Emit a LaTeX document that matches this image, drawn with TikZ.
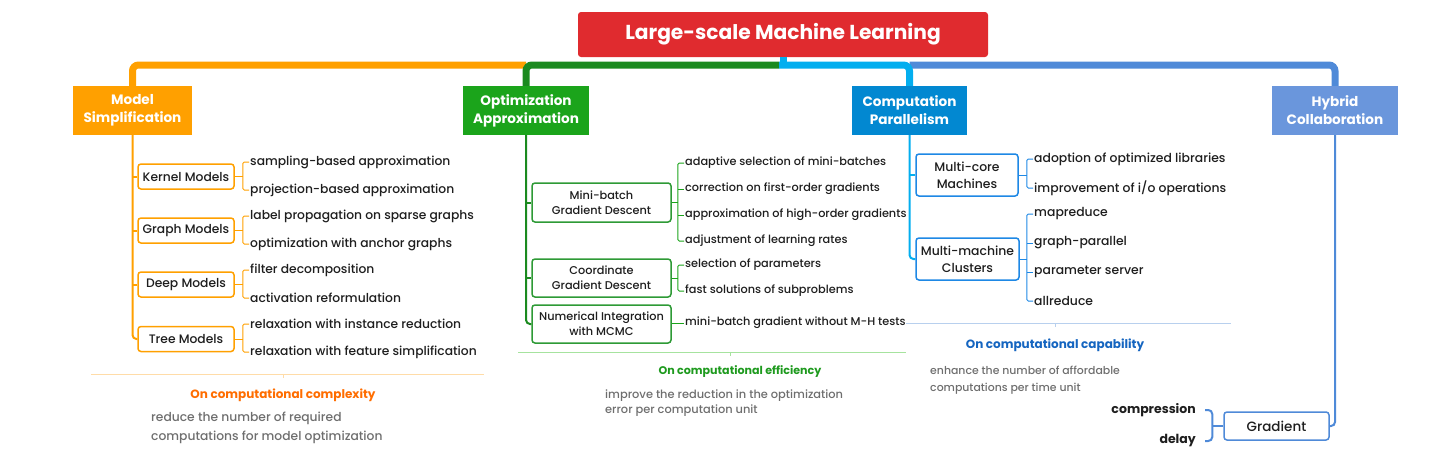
\documentclass[tikz,border=0pt]{standalone}
\usepackage{fontspec}
\setmainfont{Poppins}
\IfFontExistsTF{Poppins Medium}{\newfontfamily\medf{Poppins Medium}}{\newfontfamily\medf{Poppins}[FakeBold=1.1]}
\definecolor{rootR}{HTML}{E02B2F}
\definecolor{orgC}{HTML}{FFA000}
\definecolor{grnC}{HTML}{1BA41B}
\definecolor{grnD}{HTML}{1B8A1F}
\definecolor{grnB}{HTML}{2E9A36}
\definecolor{cyaC}{HTML}{03AEEF}
\definecolor{bluC}{HTML}{0288D1}
\definecolor{bluB}{HTML}{1E88E5}
\definecolor{hybC}{HTML}{6A96DC}
\definecolor{hybL}{HTML}{4F8AD8}
\definecolor{txtC}{HTML}{1E1E1E}
\definecolor{grayT}{HTML}{6E6E6E}
\definecolor{sumO}{HTML}{FF6D00}
\definecolor{sumG}{HTML}{1E9A1E}
\definecolor{sumB}{HTML}{1565C0}
\definecolor{lineO}{HTML}{FFDCA8}
\definecolor{lineG}{HTML}{A6E39E}
\definecolor{lineB}{HTML}{B8D0EE}
\begin{document}
\begin{tikzpicture}[x=1pt,y=-1pt,
  branch/.style={rectangle, text=white, font=\fontsize{13.6}{18}\selectfont\bfseries, align=center, inner sep=0pt},
  child/.style={rectangle, draw, fill=white, rounded corners=3pt, line width=1.5pt, text=txtC, align=center, inner sep=0pt},
  leaf/.style={anchor=west, inner sep=1pt, text=txtC},
  sumtitle/.style={inner sep=0pt},
  sumtext/.style={anchor=west, align=left, text=grayT, inner sep=0pt},
  bus/.style={line width=7pt, rounded corners=6pt},
  trunk/.style={line width=2pt, rounded corners=4pt},
  twig/.style={line width=1pt, rounded corners=1.5pt},
  sumline/.style={line width=1pt}
]
\useasboundingbox (0,0) rectangle (1442,469);
% root
\node[rectangle, fill=rootR, rounded corners=3pt, minimum width=410pt, minimum height=45pt, text=white, font=\fontsize{20.2}{22}\selectfont\bfseries, inner sep=0pt] (root) at (783,34.5) {Large-scale Machine Learning};
\coordinate (bus) at (0,65);
\coordinate (hub) at (779,65);
% branches
\node[branch, fill=orgC, minimum width=119pt, minimum height=49pt] (ms) at (132.5,110.5) {Model\\Simplification};
\node[branch, fill=grnC, minimum width=126pt, minimum height=49pt] (oa) at (526,110.5) {Optimization\\Approximation};
\node[branch, fill=bluC, minimum width=115pt, minimum height=49pt] (cp) at (909.5,110.5) {Computation\\Parallelism};
\node[branch, fill=hybC, minimum width=126pt, minimum height=49pt] (hc) at (1335,110.5) {Hybrid\\Collaboration};
% bus
\draw[bus, cyaC] (root.south) -- (root.south|-bus);
\draw[bus, orgC] (oa.north|-bus) -- (ms.north|-bus) -- (ms.north);
\draw[bus, grnD] (hub) -- (oa.north|-bus) -- (oa.north);
\draw[bus, hybL] (cp.north|-bus) -- (hc.north|-bus) -- (hc.north);
\draw[bus, cyaC] (hub) -- (cp.north|-bus) -- (cp.north);
% ---------- Model Simplification
\begin{scope}[every node/.append style={font=\medf\fontsize{12.3}{14}\selectfont}]
\node[child, draw=orgC, minimum width=96pt, minimum height=25pt] (km) at (186,176.5) {Kernel Models};
\node[child, draw=orgC, minimum width=96pt, minimum height=25pt] (gm) at (186,230.5) {Graph Models};
\node[child, draw=orgC, minimum width=96pt, minimum height=25pt] (dm) at (186,284.5) {Deep Models};
\node[child, draw=orgC, minimum width=96pt, minimum height=25pt] (tm) at (186,339) {Tree Models};
\node[leaf] (k1) at (249,162) {sampling-based approximation};
\node[leaf] (k2) at (249,190) {projection-based approximation};
\node[leaf] (g1) at (249,216) {label propagation on sparse graphs};
\node[leaf] (g2) at (249,244) {optimization with anchor graphs};
\node[leaf] (d1) at (249,270) {filter decomposition};
\node[leaf] (d2) at (249,298) {activation reformulation};
\node[leaf] (t1) at (249,324) {relaxation with instance reduction};
\node[leaf] (t2) at (249,352) {relaxation with feature simplification};
\end{scope}
\draw[trunk, orgC] (ms.south) |- (tm.west);
\foreach \n in {km,gm,dm} \draw[trunk, orgC] (ms.south|-\n.west) -- (\n.west);
\foreach \b/\p/\q in {km/k1/k2, gm/g1/g2, dm/d1/d2, tm/t1/t2}{
  \draw[twig, orgC] (\b.east) -- ++(8,0) coordinate (tmpc);
  \draw[twig, orgC] (\p.west) -- (tmpc|-\p.west) -- (tmpc|-\q.west) -- (\q.west);
}
% summary 1
\coordinate (s1l) at (91,374); \coordinate (s1r) at (484,374); \coordinate (s1t) at (283,374);
\draw[sumline, lineO] (s1l) -- (s1r);
\draw[sumline, lineO] (s1t) -- ++(0,4);
\node[sumtitle, text=sumO, font=\fontsize{12}{14}\selectfont\bfseries] (s1) at (283,395) {On computational complexity};
\node[sumtext, font=\medf\fontsize{12.3}{19}\selectfont] (s1x) at (151,427.5) {reduce the number of required\\computations for model optimization};
% ---------- Optimization Approximation
\begin{scope}[every node/.append style={font=\medf\fontsize{11.3}{15}\selectfont}]
\node[child, draw=grnB, minimum width=139pt, minimum height=39pt] (mb) at (601.5,202.5) {Mini-batch\\Gradient Descent};
\node[child, draw=grnB, minimum width=139pt, minimum height=38pt] (cg) at (601.5,278) {Coordinate\\Gradient Descent};
\node[child, draw=grnB, minimum width=139pt, minimum height=38pt] (ni) at (601.5,324) {Numerical Integration\\with MCMC};
\node[leaf] (m1) at (684,163) {adaptive selection of mini-batches};
\node[leaf] (m2) at (684,189) {correction on first-order gradients};
\node[leaf] (m3) at (684,215) {approximation of high-order gradients};
\node[leaf] (m4) at (684,241) {adjustment of learning rates};
\node[leaf] (c1) at (684,265) {selection of parameters};
\node[leaf] (c2) at (684,291) {fast solutions of subproblems};
\node[leaf] (n1) at (684,323) {mini-batch gradient without M-H tests};
\end{scope}
\draw[trunk, grnD] (oa.south) |- (ni.west);
\foreach \n in {mb,cg} \draw[trunk, grnD] (oa.south|-\n.west) -- (\n.west);
\draw[twig, grnC] (mb.east) -- ++(6,0) coordinate (tmpm);
\draw[twig, grnC] (m1.west) -- (tmpm|-m1.west) -- (tmpm|-m4.west) -- (m4.west);
\draw[twig, grnC] (tmpm|-m2.west) -- (m2.west);
\draw[twig, grnC] (tmpm|-m3.west) -- (m3.west);
\draw[twig, grnC] (cg.east) -- ++(6,0) coordinate (tmpc);
\draw[twig, grnC] (c1.west) -- (tmpc|-c1.west) -- (tmpc|-c2.west) -- (c2.west);
\draw[twig, grnC] (ni.east|-n1.west) -- (n1.west);
% summary 2
\coordinate (s2l) at (518,352); \coordinate (s2r) at (906,352); \coordinate (s2t) at (730,352);
\draw[sumline, lineG] (s2l) -- (s2r);
\draw[sumline, lineG] (s2t) -- ++(0,4);
\node[sumtitle, text=sumG, font=\fontsize{11.1}{13}\selectfont\bfseries] (s2) at (740,372) {On computational efficiency};
\node[sumtext, font=\medf\fontsize{11.4}{15}\selectfont] (s2x) at (605,403.5) {improve the reduction in the optimization\\error per computation unit};
% ---------- Computation Parallelism
\begin{scope}[every node/.append style={font=\medf\fontsize{12.4}{17}\selectfont}]
\node[child, draw=bluB, minimum width=102pt, minimum height=42pt] (mc) at (967,175) {Multi-core\\Machines};
\node[child, draw=bluB, minimum width=103pt, minimum height=42pt] (mm) at (967.5,259) {Multi-machine\\Clusters};
\node[leaf] (p1) at (1033,159) {adoption of optimized libraries};
\node[leaf] (p2) at (1033,188) {improvement of i/o operations};
\node[leaf] (q1) at (1033,214) {mapreduce};
\node[leaf] (q2) at (1033,243) {graph-parallel};
\node[leaf] (q3) at (1033,272) {parameter server};
\node[leaf] (q4) at (1033,301) {allreduce};
\end{scope}
\draw[trunk, cyaC] (cp.south) |- (mm.west);
\draw[trunk, cyaC] (cp.south|-mc.west) -- (mc.west);
\draw[twig, bluB] (mc.east) -- ++(8,0) coordinate (tmpp);
\draw[twig, bluB] (p1.west) -- (tmpp|-p1.west) -- (tmpp|-p2.west) -- (p2.west);
\draw[twig, bluB] (mm.east) -- ++(7,0) coordinate (tmpq);
\draw[twig, bluB] (q1.west) -- (tmpq|-q1.west) -- (tmpq|-q4.west) -- (q4.west);
\draw[twig, bluB] (tmpq|-q2.west) -- (q2.west);
\draw[twig, bluB] (tmpq|-q3.west) -- (q3.west);
% summary 3
\coordinate (s3l) at (906,323); \coordinate (s3r) at (1231,323); \coordinate (s3t) at (1055,323);
\draw[sumline, lineB] (s3l) -- (s3r);
\draw[sumline, lineB] (s3t) -- ++(0,4);
\node[sumtitle, text=sumB, font=\fontsize{12}{14}\selectfont\bfseries] (s3) at (1055,345) {On computational capability};
\node[sumtext, font=\medf\fontsize{10.9}{17}\selectfont] (s3x) at (930,380.5) {enhance the number of affordable\\computations per time unit};
% ---------- Hybrid Collaboration
\node[child, draw=hybL, minimum width=105pt, minimum height=28pt, font=\medf\fontsize{13.5}{15}\selectfont] (gr) at (1276.5,426) {Gradient};
\draw[trunk, hybL] (hc.south) |- (gr.east);
\node[anchor=east, inner sep=1pt, text=txtC, font=\fontsize{12.5}{14}\selectfont\bfseries] (cm) at (1197,410) {compression};
\node[anchor=east, inner sep=1pt, text=txtC, font=\fontsize{12.5}{14}\selectfont\bfseries] (dl) at (1197,441) {delay};
\draw[line width=2pt, hybL] (gr.west) -- ++(-11,0) coordinate (tmpg);
\draw[line width=2pt, hybL, rounded corners=4pt] (cm.east) ++(8,0) -- (tmpg|-cm.east) -- (tmpg|-dl.east) -- ([xshift=8pt]dl.east);
\end{tikzpicture}
\end{document}
